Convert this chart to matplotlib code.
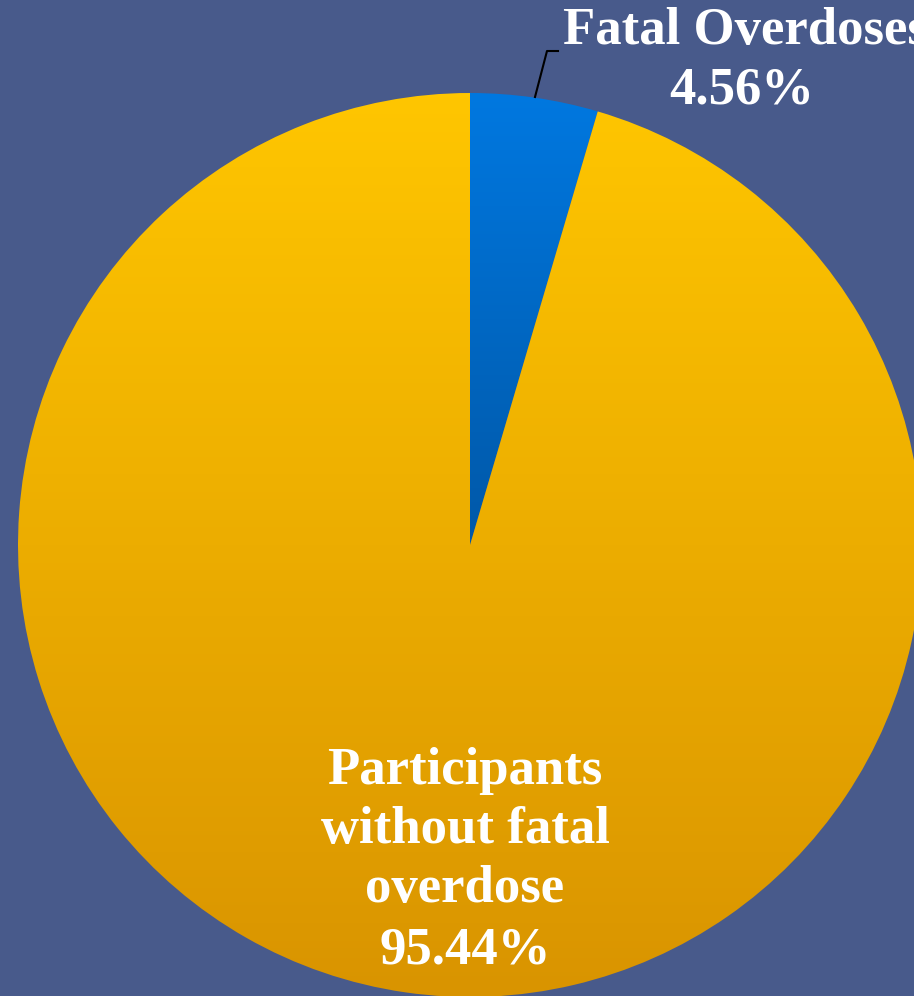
import numpy as np
import matplotlib
matplotlib.use("Agg")
import matplotlib.pyplot as plt
from matplotlib.colors import LinearSegmentedColormap

labels = ["Fatal Overdoses", "Participants\nwithout fatal\noverdose"]
shares = [4.56, 95.44]

bg = "#485a8b"
gold_top, gold_bot = "#ffc600", "#d99400"
blue_top, blue_bot = "#0078e0", "#0058a8"

W, H = 914, 996
fig = plt.figure(figsize=(W / 100, H / 100), dpi=100, facecolor=bg)
ax = fig.add_axes([0, 0, 1, 1])
ax.set_facecolor(bg)

cx, cy, r = 470, H - 545, 452
wedges, _ = ax.pie(shares, startangle=90, counterclock=False,
                   center=(cx, cy), radius=r, frame=True,
                   wedgeprops=dict(linewidth=0, edgecolor="none"))
ax.set_xlim(0, W)
ax.set_ylim(0, H)
ax.set_aspect("equal")
ax.axis("off")

# vertical gradient fill clipped to each wedge
grad = np.linspace(0, 1, 256).reshape(-1, 1)
fills = [(blue_top, blue_bot), (gold_top, gold_bot)]
for w, (c_top, c_bot) in zip(wedges, fills):
    w.set_facecolor("none")
    cmap = LinearSegmentedColormap.from_list("g", [c_bot, c_top])
    bb = w.get_path().get_extents(w.get_transform() + ax.transData.inverted())
    y0 = max(bb.y0, cy - r)
    im = ax.imshow(grad, cmap=cmap, origin="lower", aspect="auto",
                   extent=(bb.x0, bb.x1, y0, bb.y1), zorder=1)
    im.set_clip_path(w)

font = dict(family="Liberation Serif", weight="bold", color="white")

# leader line for the small slice
ax.plot([535, 547, 558], [H - 97, H - 51, H - 51], color="black", lw=1.5, zorder=3)

ax.text(563, H - 31, labels[0], ha="left", va="center", fontsize=38, **font)
ax.text(742, H - 90, f"{shares[0]:.2f}%", ha="center", va="center", fontsize=38, **font)

ax.text(465, H - 830, labels[1], ha="center", va="center", fontsize=38,
        linespacing=1.3, **font)
ax.text(465, H - 950, f"{shares[1]:.2f}%", ha="center", va="center", fontsize=38, **font)

fig.savefig("out.png", dpi=100, facecolor=bg)
